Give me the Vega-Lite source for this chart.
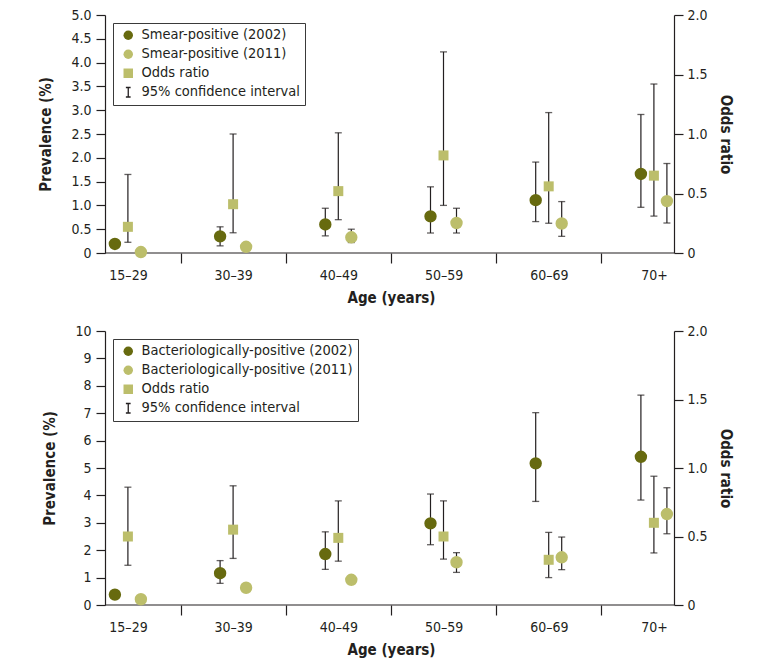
{
  "$schema": "https://vega.github.io/schema/vega-lite/v6.json",
  "background": "white",
  "padding": {"left": 38, "top": 8, "right": 5, "bottom": 5},
  "config": {
    "font": "DejaVu Sans Condensed, Roboto, sans-serif",
    "view": {"stroke": null},
    "axis": {"labelFont": "DejaVu Sans Condensed, Roboto, sans-serif", "titleFont": "DejaVu Sans Condensed, Roboto, sans-serif", "labelFontSize": 14, "titleFontSize": 15, "titleFontWeight": "bold", "labelColor": "#231f20", "titleColor": "#231f20", "domainColor": "#231f20", "tickColor": "#231f20", "domainWidth": 1.2, "tickWidth": 1.2, "grid": false},
    "legend": {"labelFont": "DejaVu Sans Condensed, Roboto, sans-serif", "labelFontSize": 14.5, "labelLimit": 0, "labelColor": "#231f20", "strokeColor": "#3a3a3a", "fillColor": "white", "padding": 5, "symbolSize": 90, "symbolOpacity": 1, "rowPadding": 3, "labelOffset": 6, "symbolOffset": 3, "symbolStrokeWidth": 1.3}
  },
  "datasets": {
    "d": [
      {"panel": "smear", "age": "15–29", "group": "2002", "series": "Smear-positive (2002)", "value": 0.19, "lo": null, "hi": null},
      {"panel": "smear", "age": "15–29", "group": "2011", "series": "Smear-positive (2011)", "value": 0.02, "lo": null, "hi": null},
      {"panel": "smear", "age": "15–29", "group": "OR", "series": "Odds ratio", "value": 0.22, "lo": 0.09, "hi": 0.66},
      {"panel": "smear", "age": "30–39", "group": "2002", "series": "Smear-positive (2002)", "value": 0.35, "lo": 0.15, "hi": 0.55},
      {"panel": "smear", "age": "30–39", "group": "2011", "series": "Smear-positive (2011)", "value": 0.13, "lo": null, "hi": null},
      {"panel": "smear", "age": "30–39", "group": "OR", "series": "Odds ratio", "value": 0.41, "lo": 0.17, "hi": 1.0},
      {"panel": "smear", "age": "40–49", "group": "2002", "series": "Smear-positive (2002)", "value": 0.60, "lo": 0.36, "hi": 0.94},
      {"panel": "smear", "age": "40–49", "group": "2011", "series": "Smear-positive (2011)", "value": 0.33, "lo": 0.22, "hi": 0.50},
      {"panel": "smear", "age": "40–49", "group": "OR", "series": "Odds ratio", "value": 0.52, "lo": 0.28, "hi": 1.01},
      {"panel": "smear", "age": "50–59", "group": "2002", "series": "Smear-positive (2002)", "value": 0.77, "lo": 0.42, "hi": 1.39},
      {"panel": "smear", "age": "50–59", "group": "2011", "series": "Smear-positive (2011)", "value": 0.63, "lo": 0.42, "hi": 0.94},
      {"panel": "smear", "age": "50–59", "group": "OR", "series": "Odds ratio", "value": 0.82, "lo": 0.40, "hi": 1.69},
      {"panel": "smear", "age": "60–69", "group": "2002", "series": "Smear-positive (2002)", "value": 1.11, "lo": 0.66, "hi": 1.91},
      {"panel": "smear", "age": "60–69", "group": "2011", "series": "Smear-positive (2011)", "value": 0.62, "lo": 0.35, "hi": 1.08},
      {"panel": "smear", "age": "60–69", "group": "OR", "series": "Odds ratio", "value": 0.56, "lo": 0.25, "hi": 1.18},
      {"panel": "smear", "age": "70+", "group": "2002", "series": "Smear-positive (2002)", "value": 1.66, "lo": 0.96, "hi": 2.91},
      {"panel": "smear", "age": "70+", "group": "2011", "series": "Smear-positive (2011)", "value": 1.09, "lo": 0.63, "hi": 1.88},
      {"panel": "smear", "age": "70+", "group": "OR", "series": "Odds ratio", "value": 0.65, "lo": 0.31, "hi": 1.42},
      {"panel": "bact", "age": "15–29", "group": "2002", "series": "Bacteriologically-positive (2002)", "value": 0.38, "lo": null, "hi": null},
      {"panel": "bact", "age": "15–29", "group": "2011", "series": "Bacteriologically-positive (2011)", "value": 0.21, "lo": null, "hi": null},
      {"panel": "bact", "age": "15–29", "group": "OR", "series": "Odds ratio", "value": 0.50, "lo": 0.29, "hi": 0.86},
      {"panel": "bact", "age": "30–39", "group": "2002", "series": "Bacteriologically-positive (2002)", "value": 1.16, "lo": 0.79, "hi": 1.62},
      {"panel": "bact", "age": "30–39", "group": "2011", "series": "Bacteriologically-positive (2011)", "value": 0.63, "lo": null, "hi": null},
      {"panel": "bact", "age": "30–39", "group": "OR", "series": "Odds ratio", "value": 0.55, "lo": 0.34, "hi": 0.87},
      {"panel": "bact", "age": "40–49", "group": "2002", "series": "Bacteriologically-positive (2002)", "value": 1.86, "lo": 1.30, "hi": 2.67},
      {"panel": "bact", "age": "40–49", "group": "2011", "series": "Bacteriologically-positive (2011)", "value": 0.92, "lo": null, "hi": null},
      {"panel": "bact", "age": "40–49", "group": "OR", "series": "Odds ratio", "value": 0.49, "lo": 0.32, "hi": 0.76},
      {"panel": "bact", "age": "50–59", "group": "2002", "series": "Bacteriologically-positive (2002)", "value": 2.98, "lo": 2.20, "hi": 4.05},
      {"panel": "bact", "age": "50–59", "group": "2011", "series": "Bacteriologically-positive (2011)", "value": 1.56, "lo": 1.19, "hi": 1.91},
      {"panel": "bact", "age": "50–59", "group": "OR", "series": "Odds ratio", "value": 0.50, "lo": 0.335, "hi": 0.76},
      {"panel": "bact", "age": "60–69", "group": "2002", "series": "Bacteriologically-positive (2002)", "value": 5.17, "lo": 3.78, "hi": 7.02},
      {"panel": "bact", "age": "60–69", "group": "2011", "series": "Bacteriologically-positive (2011)", "value": 1.74, "lo": 1.29, "hi": 2.48},
      {"panel": "bact", "age": "60–69", "group": "OR", "series": "Odds ratio", "value": 0.33, "lo": 0.20, "hi": 0.53},
      {"panel": "bact", "age": "70+", "group": "2002", "series": "Bacteriologically-positive (2002)", "value": 5.41, "lo": 3.83, "hi": 7.66},
      {"panel": "bact", "age": "70+", "group": "2011", "series": "Bacteriologically-positive (2011)", "value": 3.32, "lo": 2.60, "hi": 4.28},
      {"panel": "bact", "age": "70+", "group": "OR", "series": "Odds ratio", "value": 0.60, "lo": 0.38, "hi": 0.94}
    ]
  },
  "resolve": {"scale": {"color": "independent", "shape": "independent"}},
  "spacing": 19,
  "vconcat": [
    {
      "width": 569,
      "height": 238,
      "data": {"name": "d"},
      "transform": [{"filter": "datum.panel === 'smear'"}],
      "resolve": {"scale": {"y": "independent"}},
      "layer": [
        {
          "layer": [
            {
              "data": {"values": [{}]},
              "mark": {"type": "rule", "color": "#231f20", "strokeWidth": 1.2},
              "encoding": {
                "y": {"datum": 0, "type": "quantitative", "scale": {"domain": [0, 5], "nice": false}, "axis": {"orient": "left", "title": "Prevalence (%)", "values": [0, 0.5, 1, 1.5, 2, 2.5, 3, 3.5, 4, 4.5, 5], "labelExpr": "datum.value === 0 ? '0' : format(datum.value, '.1f')", "tickSize": 9, "labelPadding": 5, "titlePadding": 17}}
              }
            },
            {
              "transform": [{"filter": "datum.group !== 'OR' && datum.lo != null"}],
              "mark": {"type": "rule", "color": "#231f20", "strokeWidth": 1.2},
              "encoding": {
                "x": {"field": "age", "type": "nominal", "scale": {"domain": ["15–29", "30–39", "40–49", "50–59", "60–69", "70+"], "range": [-29.6, 601.6], "paddingInner": 0, "paddingOuter": 0}, "axis": {"title": "Age (years)", "labelAngle": 0, "domain": false, "tickSize": 10, "tickOffset": 52.6, "labelOffset": -52.6, "labelPadding": 5, "titlePadding": 8, "tickOpacity": {"condition": {"test": "datum.value === '70+'", "value": 0}, "value": 1}}},
                "xOffset": {"field": "group", "type": "nominal", "scale": {"domain": ["2002", "OR", "2011"], "range": [33, 72]}},
                "y": {"field": "lo", "type": "quantitative", "scale": {"domain": [0, 5], "nice": false}, "axis": {"orient": "left", "title": "Prevalence (%)", "values": [0, 0.5, 1, 1.5, 2, 2.5, 3, 3.5, 4, 4.5, 5], "labelExpr": "datum.value === 0 ? '0' : format(datum.value, '.1f')", "tickSize": 9, "labelPadding": 5, "titlePadding": 17}},
                "y2": {"field": "hi"}
              }
            },
            {
              "transform": [{"filter": "datum.group !== 'OR' && datum.lo != null"}],
              "mark": {"type": "tick", "orient": "horizontal", "color": "#231f20", "size": 7, "thickness": 1.3},
              "encoding": {
                "x": {"field": "age", "type": "nominal", "scale": {"domain": ["15–29", "30–39", "40–49", "50–59", "60–69", "70+"], "range": [-29.6, 601.6], "paddingInner": 0, "paddingOuter": 0}, "axis": {"title": "Age (years)", "labelAngle": 0, "domain": false, "tickSize": 10, "tickOffset": 52.6, "labelOffset": -52.6, "labelPadding": 5, "titlePadding": 8, "tickOpacity": {"condition": {"test": "datum.value === '70+'", "value": 0}, "value": 1}}},
                "xOffset": {"field": "group", "type": "nominal", "scale": {"domain": ["2002", "OR", "2011"], "range": [33, 72]}},
                "y": {"field": "lo", "type": "quantitative", "scale": {"domain": [0, 5], "nice": false}, "axis": {"orient": "left", "title": "Prevalence (%)", "values": [0, 0.5, 1, 1.5, 2, 2.5, 3, 3.5, 4, 4.5, 5], "labelExpr": "datum.value === 0 ? '0' : format(datum.value, '.1f')", "tickSize": 9, "labelPadding": 5, "titlePadding": 17}}
              }
            },
            {
              "transform": [{"filter": "datum.group !== 'OR' && datum.lo != null"}],
              "mark": {"type": "tick", "orient": "horizontal", "color": "#231f20", "size": 7, "thickness": 1.3},
              "encoding": {
                "x": {"field": "age", "type": "nominal", "scale": {"domain": ["15–29", "30–39", "40–49", "50–59", "60–69", "70+"], "range": [-29.6, 601.6], "paddingInner": 0, "paddingOuter": 0}, "axis": {"title": "Age (years)", "labelAngle": 0, "domain": false, "tickSize": 10, "tickOffset": 52.6, "labelOffset": -52.6, "labelPadding": 5, "titlePadding": 8, "tickOpacity": {"condition": {"test": "datum.value === '70+'", "value": 0}, "value": 1}}},
                "xOffset": {"field": "group", "type": "nominal", "scale": {"domain": ["2002", "OR", "2011"], "range": [33, 72]}},
                "y": {"field": "hi", "type": "quantitative", "scale": {"domain": [0, 5], "nice": false}, "axis": {"orient": "left", "title": "Prevalence (%)", "values": [0, 0.5, 1, 1.5, 2, 2.5, 3, 3.5, 4, 4.5, 5], "labelExpr": "datum.value === 0 ? '0' : format(datum.value, '.1f')", "tickSize": 9, "labelPadding": 5, "titlePadding": 17}}
              }
            },
            {
              "transform": [{"filter": "datum.group !== 'OR'"}],
              "mark": {"type": "point", "filled": true, "opacity": 1, "size": 154, "strokeWidth": 0},
              "encoding": {
                "x": {"field": "age", "type": "nominal", "scale": {"domain": ["15–29", "30–39", "40–49", "50–59", "60–69", "70+"], "range": [-29.6, 601.6], "paddingInner": 0, "paddingOuter": 0}, "axis": {"title": "Age (years)", "labelAngle": 0, "domain": false, "tickSize": 10, "tickOffset": 52.6, "labelOffset": -52.6, "labelPadding": 5, "titlePadding": 8, "tickOpacity": {"condition": {"test": "datum.value === '70+'", "value": 0}, "value": 1}}},
                "xOffset": {"field": "group", "type": "nominal", "scale": {"domain": ["2002", "OR", "2011"], "range": [33, 72]}},
                "y": {"field": "value", "type": "quantitative", "scale": {"domain": [0, 5], "nice": false}, "axis": {"orient": "left", "title": "Prevalence (%)", "values": [0, 0.5, 1, 1.5, 2, 2.5, 3, 3.5, 4, 4.5, 5], "labelExpr": "datum.value === 0 ? '0' : format(datum.value, '.1f')", "tickSize": 9, "labelPadding": 5, "titlePadding": 17}},
                "color": {"field": "series", "type": "nominal", "scale": {"domain": ["Smear-positive (2002)", "Smear-positive (2011)", "Odds ratio", "95% confidence interval"], "range": ["#676a0f", "#bcbe6b", "#bcbe6b", "#231f20"]}, "legend": {"title": null, "orient": "top-left", "offset": 8, "encode": {"symbols": {"update": {"stroke": {"signal": "datum.value === '95% confidence interval' ? '#231f20' : 'transparent'"}, "strokeWidth": {"value": 1.3}}}}}},
                "shape": {"field": "series", "type": "nominal", "scale": {"domain": ["Smear-positive (2002)", "Smear-positive (2011)", "Odds ratio", "95% confidence interval"], "range": ["circle", "circle", "square", "M-0.5,-1H0.5M0,-1V1M-0.5,1H0.5"]}, "legend": {"title": null, "orient": "top-left", "offset": 8, "encode": {"symbols": {"update": {"stroke": {"signal": "datum.value === '95% confidence interval' ? '#231f20' : 'transparent'"}, "strokeWidth": {"value": 1.3}}}}}}
              }
            }
          ]
        },
        {
          "layer": [
            {
              "transform": [{"filter": "datum.group === 'OR'"}],
              "mark": {"type": "rule", "color": "#231f20", "strokeWidth": 1.2},
              "encoding": {
                "x": {"field": "age", "type": "nominal", "scale": {"domain": ["15–29", "30–39", "40–49", "50–59", "60–69", "70+"], "range": [-29.6, 601.6], "paddingInner": 0, "paddingOuter": 0}, "axis": {"title": "Age (years)", "labelAngle": 0, "domain": false, "tickSize": 10, "tickOffset": 52.6, "labelOffset": -52.6, "labelPadding": 5, "titlePadding": 8, "tickOpacity": {"condition": {"test": "datum.value === '70+'", "value": 0}, "value": 1}}},
                "xOffset": {"field": "group", "type": "nominal", "scale": {"domain": ["2002", "OR", "2011"], "range": [33, 72]}},
                "y": {"field": "lo", "type": "quantitative", "scale": {"domain": [0, 2], "nice": false}, "axis": {"orient": "right", "title": "Odds ratio", "values": [0, 0.5, 1, 1.5, 2], "labelExpr": "datum.value === 0 ? '0' : format(datum.value, '.1f')", "tickSize": 9, "labelPadding": 4, "titlePadding": 10}},
                "y2": {"field": "hi"}
              }
            },
            {
              "transform": [{"filter": "datum.group === 'OR'"}],
              "mark": {"type": "tick", "orient": "horizontal", "color": "#231f20", "size": 7, "thickness": 1.3},
              "encoding": {
                "x": {"field": "age", "type": "nominal", "scale": {"domain": ["15–29", "30–39", "40–49", "50–59", "60–69", "70+"], "range": [-29.6, 601.6], "paddingInner": 0, "paddingOuter": 0}, "axis": {"title": "Age (years)", "labelAngle": 0, "domain": false, "tickSize": 10, "tickOffset": 52.6, "labelOffset": -52.6, "labelPadding": 5, "titlePadding": 8, "tickOpacity": {"condition": {"test": "datum.value === '70+'", "value": 0}, "value": 1}}},
                "xOffset": {"field": "group", "type": "nominal", "scale": {"domain": ["2002", "OR", "2011"], "range": [33, 72]}},
                "y": {"field": "lo", "type": "quantitative", "scale": {"domain": [0, 2], "nice": false}, "axis": {"orient": "right", "title": "Odds ratio", "values": [0, 0.5, 1, 1.5, 2], "labelExpr": "datum.value === 0 ? '0' : format(datum.value, '.1f')", "tickSize": 9, "labelPadding": 4, "titlePadding": 10}}
              }
            },
            {
              "transform": [{"filter": "datum.group === 'OR'"}],
              "mark": {"type": "tick", "orient": "horizontal", "color": "#231f20", "size": 7, "thickness": 1.3},
              "encoding": {
                "x": {"field": "age", "type": "nominal", "scale": {"domain": ["15–29", "30–39", "40–49", "50–59", "60–69", "70+"], "range": [-29.6, 601.6], "paddingInner": 0, "paddingOuter": 0}, "axis": {"title": "Age (years)", "labelAngle": 0, "domain": false, "tickSize": 10, "tickOffset": 52.6, "labelOffset": -52.6, "labelPadding": 5, "titlePadding": 8, "tickOpacity": {"condition": {"test": "datum.value === '70+'", "value": 0}, "value": 1}}},
                "xOffset": {"field": "group", "type": "nominal", "scale": {"domain": ["2002", "OR", "2011"], "range": [33, 72]}},
                "y": {"field": "hi", "type": "quantitative", "scale": {"domain": [0, 2], "nice": false}, "axis": {"orient": "right", "title": "Odds ratio", "values": [0, 0.5, 1, 1.5, 2], "labelExpr": "datum.value === 0 ? '0' : format(datum.value, '.1f')", "tickSize": 9, "labelPadding": 4, "titlePadding": 10}}
              }
            },
            {
              "transform": [{"filter": "datum.group === 'OR'"}],
              "mark": {"type": "point", "filled": true, "opacity": 1, "size": 100, "strokeWidth": 0},
              "encoding": {
                "x": {"field": "age", "type": "nominal", "scale": {"domain": ["15–29", "30–39", "40–49", "50–59", "60–69", "70+"], "range": [-29.6, 601.6], "paddingInner": 0, "paddingOuter": 0}, "axis": {"title": "Age (years)", "labelAngle": 0, "domain": false, "tickSize": 10, "tickOffset": 52.6, "labelOffset": -52.6, "labelPadding": 5, "titlePadding": 8, "tickOpacity": {"condition": {"test": "datum.value === '70+'", "value": 0}, "value": 1}}},
                "xOffset": {"field": "group", "type": "nominal", "scale": {"domain": ["2002", "OR", "2011"], "range": [33, 72]}},
                "y": {"field": "value", "type": "quantitative", "scale": {"domain": [0, 2], "nice": false}, "axis": {"orient": "right", "title": "Odds ratio", "values": [0, 0.5, 1, 1.5, 2], "labelExpr": "datum.value === 0 ? '0' : format(datum.value, '.1f')", "tickSize": 9, "labelPadding": 4, "titlePadding": 10}},
                "color": {"field": "series", "type": "nominal", "scale": {"domain": ["Smear-positive (2002)", "Smear-positive (2011)", "Odds ratio", "95% confidence interval"], "range": ["#676a0f", "#bcbe6b", "#bcbe6b", "#231f20"]}, "legend": {"title": null, "orient": "top-left", "offset": 8, "encode": {"symbols": {"update": {"stroke": {"signal": "datum.value === '95% confidence interval' ? '#231f20' : 'transparent'"}, "strokeWidth": {"value": 1.3}}}}}},
                "shape": {"field": "series", "type": "nominal", "scale": {"domain": ["Smear-positive (2002)", "Smear-positive (2011)", "Odds ratio", "95% confidence interval"], "range": ["circle", "circle", "square", "M-0.5,-1H0.5M0,-1V1M-0.5,1H0.5"]}, "legend": {"title": null, "orient": "top-left", "offset": 8, "encode": {"symbols": {"update": {"stroke": {"signal": "datum.value === '95% confidence interval' ? '#231f20' : 'transparent'"}, "strokeWidth": {"value": 1.3}}}}}}
              }
            }
          ]
        }
      ]
    },
    {
      "width": 569,
      "height": 274,
      "data": {"name": "d"},
      "transform": [{"filter": "datum.panel === 'bact'"}],
      "resolve": {"scale": {"y": "independent"}},
      "layer": [
        {
          "layer": [
            {
              "data": {"values": [{}]},
              "mark": {"type": "rule", "color": "#231f20", "strokeWidth": 1.2},
              "encoding": {
                "y": {"datum": 0, "type": "quantitative", "scale": {"domain": [0, 10], "nice": false}, "axis": {"orient": "left", "title": "Prevalence (%)", "values": [0, 1, 2, 3, 4, 5, 6, 7, 8, 9, 10], "format": "d", "tickSize": 9, "labelPadding": 5, "titlePadding": 17}}
              }
            },
            {
              "transform": [{"filter": "datum.group !== 'OR' && datum.lo != null"}],
              "mark": {"type": "rule", "color": "#231f20", "strokeWidth": 1.2},
              "encoding": {
                "x": {"field": "age", "type": "nominal", "scale": {"domain": ["15–29", "30–39", "40–49", "50–59", "60–69", "70+"], "range": [-29.6, 601.6], "paddingInner": 0, "paddingOuter": 0}, "axis": {"title": "Age (years)", "labelAngle": 0, "domain": false, "tickSize": 10, "tickOffset": 52.6, "labelOffset": -52.6, "labelPadding": 5, "titlePadding": 8, "tickOpacity": {"condition": {"test": "datum.value === '70+'", "value": 0}, "value": 1}}},
                "xOffset": {"field": "group", "type": "nominal", "scale": {"domain": ["2002", "OR", "2011"], "range": [33, 72]}},
                "y": {"field": "lo", "type": "quantitative", "scale": {"domain": [0, 10], "nice": false}, "axis": {"orient": "left", "title": "Prevalence (%)", "values": [0, 1, 2, 3, 4, 5, 6, 7, 8, 9, 10], "format": "d", "tickSize": 9, "labelPadding": 5, "titlePadding": 17}},
                "y2": {"field": "hi"}
              }
            },
            {
              "transform": [{"filter": "datum.group !== 'OR' && datum.lo != null"}],
              "mark": {"type": "tick", "orient": "horizontal", "color": "#231f20", "size": 7, "thickness": 1.3},
              "encoding": {
                "x": {"field": "age", "type": "nominal", "scale": {"domain": ["15–29", "30–39", "40–49", "50–59", "60–69", "70+"], "range": [-29.6, 601.6], "paddingInner": 0, "paddingOuter": 0}, "axis": {"title": "Age (years)", "labelAngle": 0, "domain": false, "tickSize": 10, "tickOffset": 52.6, "labelOffset": -52.6, "labelPadding": 5, "titlePadding": 8, "tickOpacity": {"condition": {"test": "datum.value === '70+'", "value": 0}, "value": 1}}},
                "xOffset": {"field": "group", "type": "nominal", "scale": {"domain": ["2002", "OR", "2011"], "range": [33, 72]}},
                "y": {"field": "lo", "type": "quantitative", "scale": {"domain": [0, 10], "nice": false}, "axis": {"orient": "left", "title": "Prevalence (%)", "values": [0, 1, 2, 3, 4, 5, 6, 7, 8, 9, 10], "format": "d", "tickSize": 9, "labelPadding": 5, "titlePadding": 17}}
              }
            },
            {
              "transform": [{"filter": "datum.group !== 'OR' && datum.lo != null"}],
              "mark": {"type": "tick", "orient": "horizontal", "color": "#231f20", "size": 7, "thickness": 1.3},
              "encoding": {
                "x": {"field": "age", "type": "nominal", "scale": {"domain": ["15–29", "30–39", "40–49", "50–59", "60–69", "70+"], "range": [-29.6, 601.6], "paddingInner": 0, "paddingOuter": 0}, "axis": {"title": "Age (years)", "labelAngle": 0, "domain": false, "tickSize": 10, "tickOffset": 52.6, "labelOffset": -52.6, "labelPadding": 5, "titlePadding": 8, "tickOpacity": {"condition": {"test": "datum.value === '70+'", "value": 0}, "value": 1}}},
                "xOffset": {"field": "group", "type": "nominal", "scale": {"domain": ["2002", "OR", "2011"], "range": [33, 72]}},
                "y": {"field": "hi", "type": "quantitative", "scale": {"domain": [0, 10], "nice": false}, "axis": {"orient": "left", "title": "Prevalence (%)", "values": [0, 1, 2, 3, 4, 5, 6, 7, 8, 9, 10], "format": "d", "tickSize": 9, "labelPadding": 5, "titlePadding": 17}}
              }
            },
            {
              "transform": [{"filter": "datum.group !== 'OR'"}],
              "mark": {"type": "point", "filled": true, "opacity": 1, "size": 154, "strokeWidth": 0},
              "encoding": {
                "x": {"field": "age", "type": "nominal", "scale": {"domain": ["15–29", "30–39", "40–49", "50–59", "60–69", "70+"], "range": [-29.6, 601.6], "paddingInner": 0, "paddingOuter": 0}, "axis": {"title": "Age (years)", "labelAngle": 0, "domain": false, "tickSize": 10, "tickOffset": 52.6, "labelOffset": -52.6, "labelPadding": 5, "titlePadding": 8, "tickOpacity": {"condition": {"test": "datum.value === '70+'", "value": 0}, "value": 1}}},
                "xOffset": {"field": "group", "type": "nominal", "scale": {"domain": ["2002", "OR", "2011"], "range": [33, 72]}},
                "y": {"field": "value", "type": "quantitative", "scale": {"domain": [0, 10], "nice": false}, "axis": {"orient": "left", "title": "Prevalence (%)", "values": [0, 1, 2, 3, 4, 5, 6, 7, 8, 9, 10], "format": "d", "tickSize": 9, "labelPadding": 5, "titlePadding": 17}},
                "color": {"field": "series", "type": "nominal", "scale": {"domain": ["Bacteriologically-positive (2002)", "Bacteriologically-positive (2011)", "Odds ratio", "95% confidence interval"], "range": ["#676a0f", "#bcbe6b", "#bcbe6b", "#231f20"]}, "legend": {"title": null, "orient": "top-left", "offset": 8, "encode": {"symbols": {"update": {"stroke": {"signal": "datum.value === '95% confidence interval' ? '#231f20' : 'transparent'"}, "strokeWidth": {"value": 1.3}}}}}},
                "shape": {"field": "series", "type": "nominal", "scale": {"domain": ["Bacteriologically-positive (2002)", "Bacteriologically-positive (2011)", "Odds ratio", "95% confidence interval"], "range": ["circle", "circle", "square", "M-0.5,-1H0.5M0,-1V1M-0.5,1H0.5"]}, "legend": {"title": null, "orient": "top-left", "offset": 8, "encode": {"symbols": {"update": {"stroke": {"signal": "datum.value === '95% confidence interval' ? '#231f20' : 'transparent'"}, "strokeWidth": {"value": 1.3}}}}}}
              }
            }
          ]
        },
        {
          "layer": [
            {
              "transform": [{"filter": "datum.group === 'OR'"}],
              "mark": {"type": "rule", "color": "#231f20", "strokeWidth": 1.2},
              "encoding": {
                "x": {"field": "age", "type": "nominal", "scale": {"domain": ["15–29", "30–39", "40–49", "50–59", "60–69", "70+"], "range": [-29.6, 601.6], "paddingInner": 0, "paddingOuter": 0}, "axis": {"title": "Age (years)", "labelAngle": 0, "domain": false, "tickSize": 10, "tickOffset": 52.6, "labelOffset": -52.6, "labelPadding": 5, "titlePadding": 8, "tickOpacity": {"condition": {"test": "datum.value === '70+'", "value": 0}, "value": 1}}},
                "xOffset": {"field": "group", "type": "nominal", "scale": {"domain": ["2002", "OR", "2011"], "range": [33, 72]}},
                "y": {"field": "lo", "type": "quantitative", "scale": {"domain": [0, 2], "nice": false}, "axis": {"orient": "right", "title": "Odds ratio", "values": [0, 0.5, 1, 1.5, 2], "labelExpr": "datum.value === 0 ? '0' : format(datum.value, '.1f')", "tickSize": 9, "labelPadding": 4, "titlePadding": 10}},
                "y2": {"field": "hi"}
              }
            },
            {
              "transform": [{"filter": "datum.group === 'OR'"}],
              "mark": {"type": "tick", "orient": "horizontal", "color": "#231f20", "size": 7, "thickness": 1.3},
              "encoding": {
                "x": {"field": "age", "type": "nominal", "scale": {"domain": ["15–29", "30–39", "40–49", "50–59", "60–69", "70+"], "range": [-29.6, 601.6], "paddingInner": 0, "paddingOuter": 0}, "axis": {"title": "Age (years)", "labelAngle": 0, "domain": false, "tickSize": 10, "tickOffset": 52.6, "labelOffset": -52.6, "labelPadding": 5, "titlePadding": 8, "tickOpacity": {"condition": {"test": "datum.value === '70+'", "value": 0}, "value": 1}}},
                "xOffset": {"field": "group", "type": "nominal", "scale": {"domain": ["2002", "OR", "2011"], "range": [33, 72]}},
                "y": {"field": "lo", "type": "quantitative", "scale": {"domain": [0, 2], "nice": false}, "axis": {"orient": "right", "title": "Odds ratio", "values": [0, 0.5, 1, 1.5, 2], "labelExpr": "datum.value === 0 ? '0' : format(datum.value, '.1f')", "tickSize": 9, "labelPadding": 4, "titlePadding": 10}}
              }
            },
            {
              "transform": [{"filter": "datum.group === 'OR'"}],
              "mark": {"type": "tick", "orient": "horizontal", "color": "#231f20", "size": 7, "thickness": 1.3},
              "encoding": {
                "x": {"field": "age", "type": "nominal", "scale": {"domain": ["15–29", "30–39", "40–49", "50–59", "60–69", "70+"], "range": [-29.6, 601.6], "paddingInner": 0, "paddingOuter": 0}, "axis": {"title": "Age (years)", "labelAngle": 0, "domain": false, "tickSize": 10, "tickOffset": 52.6, "labelOffset": -52.6, "labelPadding": 5, "titlePadding": 8, "tickOpacity": {"condition": {"test": "datum.value === '70+'", "value": 0}, "value": 1}}},
                "xOffset": {"field": "group", "type": "nominal", "scale": {"domain": ["2002", "OR", "2011"], "range": [33, 72]}},
                "y": {"field": "hi", "type": "quantitative", "scale": {"domain": [0, 2], "nice": false}, "axis": {"orient": "right", "title": "Odds ratio", "values": [0, 0.5, 1, 1.5, 2], "labelExpr": "datum.value === 0 ? '0' : format(datum.value, '.1f')", "tickSize": 9, "labelPadding": 4, "titlePadding": 10}}
              }
            },
            {
              "transform": [{"filter": "datum.group === 'OR'"}],
              "mark": {"type": "point", "filled": true, "opacity": 1, "size": 100, "strokeWidth": 0},
              "encoding": {
                "x": {"field": "age", "type": "nominal", "scale": {"domain": ["15–29", "30–39", "40–49", "50–59", "60–69", "70+"], "range": [-29.6, 601.6], "paddingInner": 0, "paddingOuter": 0}, "axis": {"title": "Age (years)", "labelAngle": 0, "domain": false, "tickSize": 10, "tickOffset": 52.6, "labelOffset": -52.6, "labelPadding": 5, "titlePadding": 8, "tickOpacity": {"condition": {"test": "datum.value === '70+'", "value": 0}, "value": 1}}},
                "xOffset": {"field": "group", "type": "nominal", "scale": {"domain": ["2002", "OR", "2011"], "range": [33, 72]}},
                "y": {"field": "value", "type": "quantitative", "scale": {"domain": [0, 2], "nice": false}, "axis": {"orient": "right", "title": "Odds ratio", "values": [0, 0.5, 1, 1.5, 2], "labelExpr": "datum.value === 0 ? '0' : format(datum.value, '.1f')", "tickSize": 9, "labelPadding": 4, "titlePadding": 10}},
                "color": {"field": "series", "type": "nominal", "scale": {"domain": ["Bacteriologically-positive (2002)", "Bacteriologically-positive (2011)", "Odds ratio", "95% confidence interval"], "range": ["#676a0f", "#bcbe6b", "#bcbe6b", "#231f20"]}, "legend": {"title": null, "orient": "top-left", "offset": 8, "encode": {"symbols": {"update": {"stroke": {"signal": "datum.value === '95% confidence interval' ? '#231f20' : 'transparent'"}, "strokeWidth": {"value": 1.3}}}}}},
                "shape": {"field": "series", "type": "nominal", "scale": {"domain": ["Bacteriologically-positive (2002)", "Bacteriologically-positive (2011)", "Odds ratio", "95% confidence interval"], "range": ["circle", "circle", "square", "M-0.5,-1H0.5M0,-1V1M-0.5,1H0.5"]}, "legend": {"title": null, "orient": "top-left", "offset": 8, "encode": {"symbols": {"update": {"stroke": {"signal": "datum.value === '95% confidence interval' ? '#231f20' : 'transparent'"}, "strokeWidth": {"value": 1.3}}}}}}
              }
            }
          ]
        }
      ]
    }
  ]
}
